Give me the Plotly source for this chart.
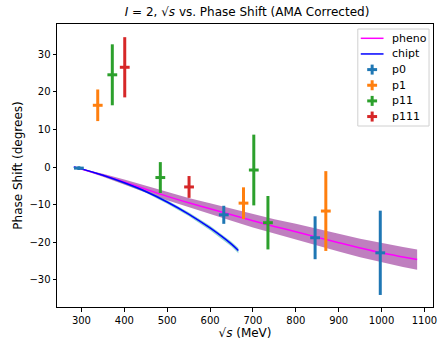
import plotly.graph_objects as go

# ---- data ----
pheno_x = [283, 350, 400, 450, 500, 550, 600, 650, 700, 750, 800, 850, 900, 950, 1000, 1050, 1083]
pheno_y = [0, -2.2, -4.0, -5.9, -7.8, -9.5, -11.1, -12.7, -14.3, -15.8, -17.2, -18.7, -20.1, -21.5, -22.8, -23.9, -24.6]
pheno_err = [0, 0.4, 0.65, 0.85, 1.05, 1.25, 1.45, 1.6, 1.8, 1.95, 2.1, 2.2, 2.35, 2.45, 2.55, 2.65, 2.7]

chipt_x = [282, 300, 350, 400, 450, 500, 550, 600, 650, 666]
chipt_y = [0, -0.5, -2.2, -4.2, -6.5, -9.3, -12.5, -16.2, -20.5, -22.2]
chipt_err = [0, 0.1, 0.2, 0.3, 0.35, 0.45, 0.5, 0.6, 0.65, 0.7]

p0_x = [294, 632, 845, 997]
p0_y = [-0.3, -12.7, -18.8, -22.8]
p0_err = [0.5, 2.4, 5.7, 11.2]

p1_x = [338, 678, 870]
p1_y = [16.4, -9.6, -11.7]
p1_err = [4.2, 4.2, 10.6]

p11_x = [372, 484, 702, 735]
p11_y = [24.5, -2.8, -0.8, -14.8]
p11_err = [8.1, 4.1, 9.4, 7.1]

p111_x = [401, 551]
p111_y = [26.5, -5.3]
p111_err = [8.0, 2.9]

x_ticks = [300, 400, 500, 600, 700, 800, 900, 1000, 1100]
y_ticks = [-30, -20, -10, 0, 10, 20, 30]

series = [("p0", p0_x, p0_y, p0_err, "#1f77b4"),
          ("p1", p1_x, p1_y, p1_err, "#ff7f0e"),
          ("p11", p11_x, p11_y, p11_err, "#2ca02c"),
          ("p111", p111_x, p111_y, p111_err, "#d62728")]

FONT = "DejaVu Sans"
W, H = 443, 345
ML, MR, MT, MB = 57, 6, 24, 38
fig = go.Figure()

def band(xs, ys, es, color):
    upper = [y + e for y, e in zip(ys, es)]
    lower = [y - e for y, e in zip(ys, es)]
    fig.add_trace(go.Scatter(x=xs + xs[::-1], y=upper + lower[::-1], fill="toself",
                             fillcolor=color, line=dict(width=0), mode="lines",
                             showlegend=False, hoverinfo="skip"))

band(pheno_x, pheno_y, pheno_err, "rgba(128,0,128,0.5)")
band(chipt_x, chipt_y, chipt_err, "rgba(0,150,150,0.45)")

fig.add_trace(go.Scatter(x=pheno_x, y=pheno_y, mode="lines", name="pheno", showlegend=False,
                         line=dict(color="#ff00ff", width=1.5, shape="spline")))
fig.add_trace(go.Scatter(x=chipt_x, y=chipt_y, mode="lines", name="chipt", showlegend=False,
                         line=dict(color="#0000ff", width=1.5, shape="spline")))

for name, xs, ys, es, col in series:
    fig.add_trace(go.Scatter(x=xs, y=ys, mode="markers", name=name, showlegend=False,
                             marker=dict(symbol="line-ew", size=7, color=col,
                                         line=dict(color=col, width=3)),
                             error_y=dict(type="data", array=es, visible=True,
                                          color=col, thickness=3, width=0)))

# ---- manual legend (paper coordinates, converted from pixels) ----
PW = W - ML - MR
PH = H - MT - MB

def px(x):
    return (x - ML) / PW

def py(y):
    return (H - MB - y) / PH

shapes = [dict(type="rect", xref="paper", yref="paper",
               x0=px(361), x1=px(433), y0=py(29), y1=py(126),
               line=dict(color="#d0d0d0", width=1), fillcolor="rgba(255,255,255,0.8)")]
annotations = []
legend_items = [("pheno", "#ff00ff", "line"), ("chipt", "#0000ff", "line")] + \
               [(s[0], s[4], "plus") for s in series]
row_y = 38.3
for label, col, kind in legend_items:
    if kind == "line":
        shapes.append(dict(type="line", xref="paper", yref="paper",
                           x0=px(364), x1=px(387), y0=py(row_y), y1=py(row_y),
                           line=dict(color=col, width=1.5)))
    else:
        shapes.append(dict(type="line", xref="paper", yref="paper",
                           x0=px(370.5), x1=px(380.5), y0=py(row_y), y1=py(row_y),
                           line=dict(color=col, width=3)))
        shapes.append(dict(type="line", xref="paper", yref="paper",
                           x0=px(375.5), x1=px(375.5), y0=py(row_y - 5), y1=py(row_y + 5),
                           line=dict(color=col, width=3)))
    annotations.append(dict(text=label, xref="paper", yref="paper", x=px(394), y=py(row_y),
                            xanchor="left", yanchor="middle", showarrow=False,
                            font=dict(size=11, family=FONT, color="black")))
    row_y += 15.65

fig.update_layout(
    width=W, height=H,
    margin=dict(l=ML, r=MR, t=MT, b=MB),
    paper_bgcolor="white", plot_bgcolor="white",
    font=dict(family=FONT, size=10, color="black"),
    title=dict(text="<i>I</i> = 2, √<i>s</i> vs. Phase Shift (AMA Corrected)",
               x=(ML + W - MR) / 2 / W, xanchor="center", y=1 - 12 / H, yanchor="middle",
               font=dict(size=12, family=FONT)),
    showlegend=False,
    shapes=shapes,
    annotations=annotations,
)
fig.update_xaxes(range=[243, 1120], tickvals=x_ticks, ticks="outside", ticklen=3.5,
                 tickcolor="black", showline=True, linecolor="black", linewidth=1,
                 mirror=True, showgrid=False, zeroline=False,
                 title=dict(text="√<i>s</i> (MeV)", font=dict(size=12, family=FONT), standoff=4))
fig.update_yaxes(range=[-37.2, 38.0], tickvals=y_ticks,
                 ticktext=["\u221230", "\u221220", "\u221210", "0", "10", "20", "30"],
                 ticks="outside", ticklen=3.5,
                 tickcolor="black", showline=True, linecolor="black", linewidth=1,
                 mirror=True, showgrid=False, zeroline=False,
                 title=dict(text="Phase Shift (degrees)", font=dict(size=12, family=FONT), standoff=4))

fig.write_html("out.html")
